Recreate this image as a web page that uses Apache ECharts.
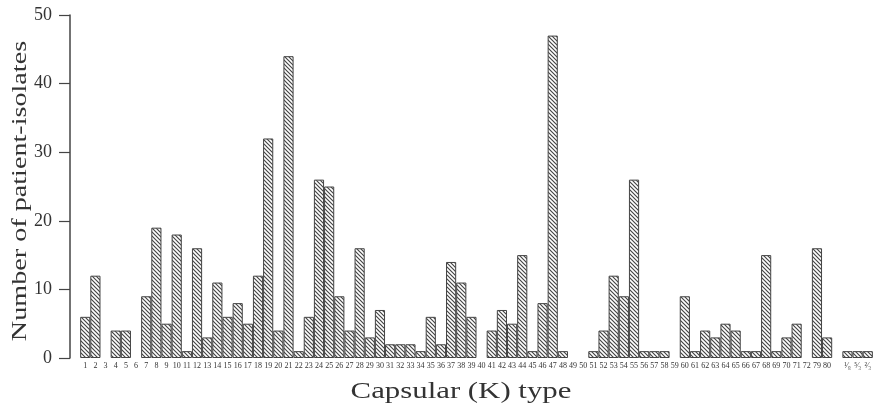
<!DOCTYPE html>
<html>
<head>
<meta charset="utf-8">
<script src="https://cdn.jsdelivr.net/npm/echarts@6/dist/echarts.min.js"></script>
<style>
  html, body { margin: 0; padding: 0; background: #fff; }
  #chart { width: 874px; height: 405px; }
</style>
</head>
<body>
<div id="chart"></div>
<script>
// capsular types along the x axis (an empty slot before 1, 73-78 not shown,
// one blank slot before the mixed types)
var kTypes = ['', '1','2','3','4','5','6','7','8','9','10',
    '11','12','13','14','15','16','17','18','19','20',
    '21','22','23','24','25','26','27','28','29','30',
    '31','32','33','34','35','36','37','38','39','40',
    '41','42','43','44','45','46','47','48','49','50',
    '51','52','53','54','55','56','57','58','59','60',
    '61','62','63','64','65','66','67','68','69','70',
    '71','72','79','80','','¹⁄₈','⁵⁄₃','²⁄₃'];

// number of patient-isolates per type
var isolates = [0, 6, 12, 0, 4, 4, 0, 9, 19, 5, 18,
    1, 16, 3, 11, 6, 8, 5, 12, 32, 4,
    44, 1, 6, 26, 25, 9, 4, 16, 3, 7,
    2, 2, 2, 1, 6, 2, 14, 11, 6, 0,
    4, 7, 5, 15, 1, 8, 47, 1, 0, 0,
    1, 4, 12, 9, 26, 1, 1, 1, 0, 9,
    1, 4, 3, 5, 4, 1, 1, 15, 1, 3,
    5, 0, 16, 3, 0, 1, 1, 1];

var yTicks = [0, 10, 20, 30, 40, 50];

var xTitle = 'Capsular (K) type';
var yTitle = 'Number of patient-isolates';

function hatch() {
    var c = document.createElement('canvas');
    c.width = 4;
    c.height = 4;
    var g = c.getContext('2d');
    g.fillStyle = '#fff';
    g.fillRect(0, 0, 4, 4);
    g.strokeStyle = '#444';
    g.lineWidth = 1.15;
    g.beginPath();
    g.moveTo(-1, -1); g.lineTo(5, 5);
    g.moveTo(-1, 3); g.lineTo(1, 5);
    g.moveTo(3, -1); g.lineTo(5, 1);
    g.stroke();
    return c;
}

var serif = '"Liberation Serif", "DejaVu Serif", serif';

var myChart = echarts.init(document.getElementById('chart'));

var option = {
    animation: false,
    backgroundColor: '#fff',
    grid: {
        left: 70,
        right: -4,
        top: 15,
        bottom: 47
    },
    // the titles in the scan are drawn wide, so they are stretched along the text
    graphic: [{
        type: 'text',
        x: 461,
        y: 392,
        scaleX: 1.34,
        style: {
            text: xTitle,
            font: '23px ' + serif,
            fill: '#333',
            align: 'center',
            verticalAlign: 'middle'
        }
    }, {
        type: 'text',
        x: 20,
        y: 191,
        rotation: Math.PI / 2,
        scaleX: 1.28,
        style: {
            text: yTitle,
            font: '22px ' + serif,
            fill: '#333',
            align: 'center',
            verticalAlign: 'middle'
        }
    }],
    xAxis: {
        type: 'category',
        data: kTypes,
        axisLine: { show: false },
        axisTick: { show: false },
        axisLabel: {
            interval: 0,
            fontFamily: serif,
            fontSize: 8,
            color: '#333',
            margin: 4
        }
    },
    yAxis: {
        type: 'value',
        min: yTicks[0],
        max: yTicks[yTicks.length - 1],
        interval: 10,
        splitLine: { show: false },
        axisLine: { show: true, lineStyle: { color: '#444', width: 1.5 } },
        axisTick: { show: true, length: 11, lineStyle: { color: '#444', width: 1.2 } },
        axisLabel: {
            fontFamily: serif,
            fontSize: 18,
            color: '#333',
            margin: 18
        }
    },
    series: [{
        type: 'bar',
        barCategoryGap: '0%',
        data: isolates.map(function (v) { return v === 0 ? '-' : v; }),
        itemStyle: {
            color: { image: hatch(), repeat: 'repeat' },
            borderColor: '#444',
            borderWidth: 1
        }
    }]
};

myChart.setOption(option);
</script>
</body>
</html>
